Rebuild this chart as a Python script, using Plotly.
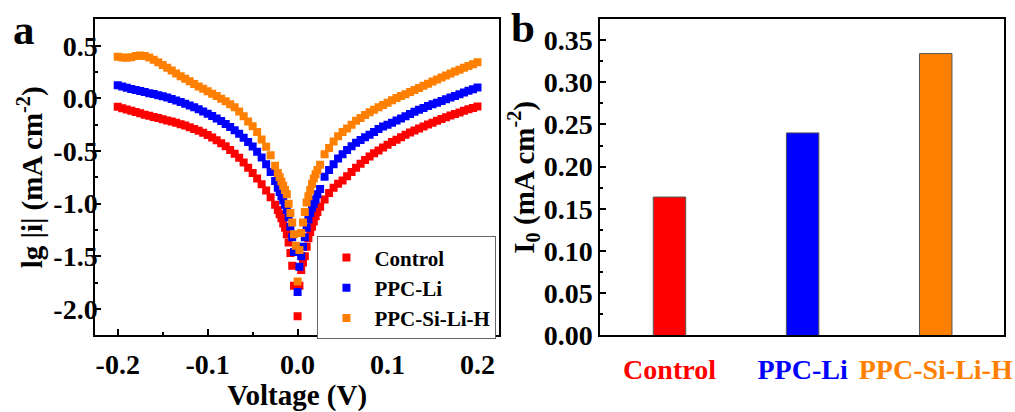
import plotly.graph_objects as go

# ---------------- data: panel a (Tafel plots) ----------------
VOLTAGE = [
    -0.200, -0.195, -0.190, -0.185, -0.180, -0.175, -0.170, -0.165, -0.160, -0.155,
    -0.150, -0.145, -0.140, -0.135, -0.130, -0.125, -0.120, -0.115, -0.110, -0.105,
    -0.100, -0.095, -0.090, -0.085, -0.080, -0.075, -0.070, -0.065, -0.060, -0.055,
    -0.050, -0.045, -0.040, -0.035, -0.030, -0.025,
    -0.022, -0.020, -0.018, -0.016, -0.014, -0.012, -0.010, -0.008, -0.006, -0.004, -0.002,
    0.000, 0.002, 0.004, 0.006, 0.008, 0.010, 0.012, 0.014, 0.016, 0.018, 0.020, 0.022,
    0.025, 0.030, 0.035, 0.040, 0.045, 0.050, 0.055, 0.060, 0.065, 0.070,
    0.075, 0.080, 0.085, 0.090, 0.095, 0.100, 0.105, 0.110, 0.115, 0.120,
    0.125, 0.130, 0.135, 0.140, 0.145, 0.150, 0.155, 0.160, 0.165, 0.170,
    0.175, 0.180, 0.185, 0.190, 0.195, 0.200,
]

LG_CONTROL = [
    -0.080, -0.093, -0.106, -0.118, -0.130, -0.142, -0.154, -0.165, -0.176, -0.187,
    -0.198, -0.209, -0.220, -0.232, -0.245, -0.258, -0.273, -0.290, -0.308, -0.327,
    -0.348, -0.372, -0.398, -0.425, -0.455, -0.490, -0.525, -0.565, -0.610, -0.660,
    -0.710, -0.760, -0.815, -0.875, -0.940, -1.010,
    -1.06, -1.10, -1.14, -1.19, -1.23, -1.29, -1.37, -1.47, -1.59, -1.78, None,
    -2.07, -1.78, -1.63, -1.56, -1.50, -1.41, -1.33, -1.27, -1.22, -1.17, -1.12, -1.08,
    -1.03, -0.96, -0.90, -0.85, -0.81, -0.78, -0.74, -0.70, -0.66, -0.62,
    -0.585, -0.552, -0.522, -0.494, -0.467, -0.44, -0.415, -0.392, -0.368, -0.346,
    -0.325, -0.305, -0.285, -0.266, -0.248, -0.23, -0.213, -0.196, -0.179, -0.163,
    -0.148, -0.133, -0.118, -0.104, -0.09, -0.077,
]

LG_PPC_LI = [
    0.125, 0.113, 0.101, 0.090, 0.080, 0.070, 0.060, 0.050, 0.041, 0.031,
    0.020, 0.008, -0.005, -0.019, -0.034, -0.050, -0.067, -0.085, -0.104, -0.124,
    -0.145, -0.167, -0.190, -0.215, -0.242, -0.271, -0.302, -0.336, -0.373, -0.414,
    -0.458, -0.508, -0.562, -0.625, -0.700, -0.785,
    -0.85, -0.89, -0.93, -0.97, -1.01, -1.06, -1.13, -1.22, -1.32, -1.46, None,
    -1.84, -1.60, -1.50, -1.41, -1.32, -1.23, -1.15, -1.09, -1.04, -1.00, -0.96, -0.91,
    -0.86, -0.745, -0.68, -0.625, -0.57, -0.53, -0.49, -0.455, -0.421, -0.395,
    -0.37, -0.345, -0.32, -0.29, -0.268, -0.25, -0.23, -0.21, -0.19, -0.17,
    -0.148, -0.126, -0.108, -0.09, -0.073, -0.056, -0.04, -0.024, -0.008, 0.008,
    0.024, 0.04, 0.056, 0.072, 0.088, 0.103,
]

LG_PPC_SI_LI_H = [
    0.397, 0.390, 0.386, 0.392, 0.403, 0.407, 0.403, 0.390, 0.368, 0.345,
    0.318, 0.292, 0.265, 0.238, 0.212, 0.188, 0.163, 0.138, 0.114, 0.091,
    0.068, 0.045, 0.022, -0.002, -0.028, -0.056, -0.085, -0.125, -0.170, -0.220,
    -0.265, -0.320, -0.390, -0.460, -0.540, -0.640,
    -0.71, -0.75, -0.79, -0.83, -0.87, -0.91, -1.00, -1.09, -1.18, -1.29, -1.40,
    -1.74, -1.44, -1.28, -1.18, -1.08, -0.99, -0.93, -0.87, -0.81, -0.76, -0.72, -0.68,
    -0.63, -0.53, -0.47, -0.41, -0.36, -0.32, -0.285, -0.25, -0.212, -0.185,
    -0.158, -0.132, -0.108, -0.084, -0.062, -0.04, -0.018, 0.003, 0.022, 0.04,
    0.06, 0.08, 0.10, 0.12, 0.14, 0.16, 0.18, 0.20, 0.219, 0.237,
    0.255, 0.273, 0.291, 0.309, 0.326, 0.343,
]

SERIES_NAMES = ["Control", "PPC-Li", "PPC-Si-Li-H"]
SERIES_COLORS = ["#ff0000", "#0000ff", "#ff8000"]

X_TICKS_A = [-0.2, -0.1, 0.0, 0.1, 0.2]
X_TICKTEXT_A = ["-0.2", "-0.1", "0.0", "0.1", "0.2"]
Y_TICKS_A = [-2.0, -1.5, -1.0, -0.5, 0.0, 0.5]
Y_TICKTEXT_A = ["-2.0", "-1.5", "-1.0", "-0.5", "0.0", "0.5"]

# ---------------- data: panel b (exchange current density) ----------------
CATEGORIES = ["Control", "PPC-Li", "PPC-Si-Li-H"]
I0_VALUES = [0.164, 0.240, 0.334]

FONT = "Liberation Serif"
TICK_SIZE = 28
TITLE_SIZE = 29

fig = go.Figure()

for name, color, ys in zip(SERIES_NAMES, SERIES_COLORS,
                           [LG_CONTROL, LG_PPC_LI, LG_PPC_SI_LI_H]):
    fig.add_trace(go.Scatter(
        x=VOLTAGE, y=ys, name=name, mode="markers",
        marker=dict(symbol="square", size=8, color=color, line=dict(width=0)),
        xaxis="x", yaxis="y", connectgaps=False,
    ))

fig.add_trace(go.Bar(
    x=CATEGORIES, y=I0_VALUES, width=0.244,
    marker=dict(color=SERIES_COLORS, line=dict(color="#555555", width=1)),
    xaxis="x2", yaxis="y2", showlegend=False,
))

axis_common = dict(
    showline=True, linewidth=2, linecolor="black", mirror=True,
    showgrid=False, zeroline=False,
    ticks="inside", ticklen=6, tickwidth=1.5, tickcolor="black",
    tickfont=dict(size=TICK_SIZE),
)

ticktext_b = ['<span style="color:%s">%s</span>' % (c, n)
              for c, n in zip(SERIES_COLORS, CATEGORIES)]

fig.update_layout(
    width=1015, height=412,
    margin=dict(l=0, r=0, t=0, b=0),
    paper_bgcolor="white", plot_bgcolor="white",
    font=dict(family=FONT, size=26, color="black", weight="bold"),
    xaxis=dict(
        domain=[0.0946, 0.4956], range=[-0.225, 0.224], anchor="y",
        tickvals=X_TICKS_A, ticktext=X_TICKTEXT_A,
        minor=dict(ticks="inside", ticklen=3, tickwidth=1.5, tick0=0, dtick=0.05,
                   tickcolor="black"),
        ticklabelstandoff=3,
        title=dict(text="Voltage (V)", font=dict(size=TITLE_SIZE), standoff=3),
        **axis_common,
    ),
    yaxis=dict(
        domain=[0.1529, 0.9515], range=[-2.253, 0.753], anchor="x",
        tickvals=Y_TICKS_A, ticktext=Y_TICKTEXT_A,
        minor=dict(ticks="inside", ticklen=3, tickwidth=1.5, tick0=0, dtick=0.25,
                   tickcolor="black"),
        ticklabelstandoff=-10,
        title=dict(text="lg |i| (mA cm<sup>-2</sup>)", font=dict(size=TITLE_SIZE), standoff=2),
        **axis_common,
    ),
    xaxis2=dict(
        domain=[0.5961, 0.9973], range=[-0.52, 2.515], anchor="y2",
        type="category",
        tickvals=CATEGORIES, ticktext=ticktext_b,
        tickfont=dict(size=TICK_SIZE),
        showline=True, linewidth=2, linecolor="black", mirror=True,
        showgrid=False, zeroline=False, ticks="",
        ticklabelstandoff=8,
    ),
    yaxis2=dict(
        domain=[0.1529, 0.9515], range=[0, 0.3747], anchor="x2",
        tick0=0, dtick=0.05, tickformat=".2f",
        minor=dict(ticks="inside", ticklen=3, tickwidth=1.5, tick0=0, dtick=0.025,
                   tickcolor="black"),
        ticklabelstandoff=0,
        title=dict(text="I<sub>0</sub> (mA cm<sup>-2</sup>)", font=dict(size=TITLE_SIZE), standoff=0),
        **axis_common,
    ),
    legend=dict(
        x=0.493, y=0.143, xanchor="right", yanchor="bottom",
        bordercolor="#666666", borderwidth=1, bgcolor="white",
        font=dict(size=21, family=FONT, weight="bold"),
        itemwidth=46, tracegroupgap=0,
    ),
    annotations=[
        dict(text="a", x=24 / 1015, y=1 - 31 / 412, xref="paper", yref="paper",
             xanchor="center", yanchor="middle", showarrow=False,
             font=dict(size=43, family=FONT, weight="bold")),
        dict(text="b", x=527 / 1015, y=1 - 29 / 412, xref="paper", yref="paper",
             xanchor="center", yanchor="middle", showarrow=False,
             font=dict(size=43, family=FONT, weight="bold")),
    ],
)

fig.write_html("out.html")
